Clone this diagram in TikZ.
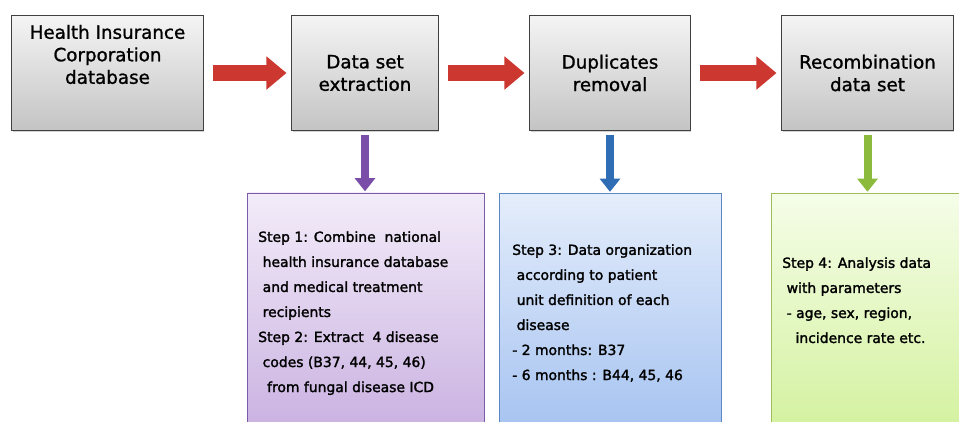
\documentclass[tikz,border=0pt]{standalone}
\usepackage{fontspec}
\setmainfont{DejaVu Sans}
\newfontfamily\stagefont[FakeBold=1.2]{DejaVu Sans}
\newfontfamily\stepfont[FakeBold=1.8]{DejaVu Sans}
\usetikzlibrary{positioning,arrows.meta,shadows}

\definecolor{boxtop}{HTML}{F4F4F4}
\definecolor{boxbot}{HTML}{C4C4C4}
\definecolor{flowred}{HTML}{CC3730}
\definecolor{lilactop}{HTML}{F3ECF9}
\definecolor{lilacbot}{HTML}{C8AFE0}
\definecolor{lilacline}{HTML}{7C5BA8}
\definecolor{lilacarrow}{HTML}{7A4EA8}
\definecolor{skytop}{HTML}{E4EDFB}
\definecolor{skybot}{HTML}{A3C1F0}
\definecolor{skyline}{HTML}{5D86C5}
\definecolor{skyarrow}{HTML}{2F6DB5}
\definecolor{limetop}{HTML}{F5FDE8}
\definecolor{limebot}{HTML}{D2F19C}
\definecolor{limeline}{HTML}{9CBF5A}
\definecolor{limearrow}{HTML}{8BBA3C}

\tikzset{
  stagebox/.style={draw=black!75, line width=0.7pt, top color=boxtop, bottom color=boxbot,
    drop shadow={shadow xshift=1pt, shadow yshift=-1pt, opacity=0.35}},
  stagetext/.style={align=center, inner sep=0pt, font=\stagefont\fontsize{13}{16}\selectfont},
  stepbox/.style={line width=0.7pt, anchor=north},
  steptext/.style={align=left, anchor=north west, inner sep=0pt, font=\stepfont\fontsize{9.9}{17.8}\selectfont},
  flow/.style={draw=flowred, line width=0.42cm, -{Triangle[length=0.5cm,width=0.8cm]},
    shorten <=0.225cm, shorten >=0.125cm},
  drop/.style={line width=0.2cm, -{Triangle[length=0.33cm,width=0.5cm]},
    shorten <=0.1cm, shorten >=0.03cm},
}

\begin{document}
\begin{tikzpicture}[x=0.025cm, y=-0.025cm]
  \useasboundingbox (0,0) rectangle (959,421);

  % top row
  \node[stagebox, minimum width=4.775cm, minimum height=2.875cm] (hic) at (107.5,73) {};
  \node[stagetext, below=0.24cm of hic.north] (hictext) {Health Insurance\\Corporation\\database};
  \node[stagebox, stagetext, minimum width=3.65cm, minimum height=2.875cm] (dse) at (365,73) {Data set\\extraction};
  \node[stagebox, stagetext, minimum width=4cm, minimum height=2.875cm] (dup) at (610,73) {Duplicates\\removal};
  \node[stagebox, stagetext, minimum width=4.275cm, minimum height=2.875cm] (rds) at (867.5,73) {Recombination\\data set};

  \draw[flow] (hic) -- (dse);
  \draw[flow] (dse) -- (dup);
  \draw[flow] (dup) -- (rds);

  % step boxes
  \node[stepbox, draw=lilacline, top color=lilactop, bottom color=lilacbot,
        minimum width=5.9cm, minimum height=6.2cm] (stp12) at (366,192.5) {};
  \node[stepbox, draw=skyline, top color=skytop, bottom color=skybot,
        minimum width=5.525cm, minimum height=6.2cm] (stp3) at (610.5,193) {};
  \node[stepbox, draw=limeline, top color=limetop, bottom color=limebot,
        minimum width=4.95cm, minimum height=6.2cm] (stp4) at (871,193) {};

  \draw[drop, draw=lilacarrow] (dse.south) -- (dse.south |- stp12.north);
  \draw[drop, draw=skyarrow] (dup.south) -- (dup.south |- stp3.north);
  \draw[drop, draw=limearrow] (rds.south) -- (rds.south |- stp4.north);

  \node[steptext] (stp12text) at (258,231) {Step 1: Combine\ \ national\\\ health insurance database\\\ and medical treatment\\\ recipients\\Step 2: Extract\ \ 4 disease\\\ codes (B37, 44, 45, 46)\\\ \ from fungal disease ICD};
  \node[steptext] (stp3text) at (512,244) {Step 3: Data organization\\\ according to patient\\\ unit definition of each\\\ disease\\- 2 months: B37\\- 6 months : B44, 45, 46};
  \node[steptext] (stp4text) at (782,257) {Step 4: Analysis data\\\ with parameters\\\ - age, sex, region,\\\ \ \ incidence rate etc.};
\end{tikzpicture}
\end{document}
